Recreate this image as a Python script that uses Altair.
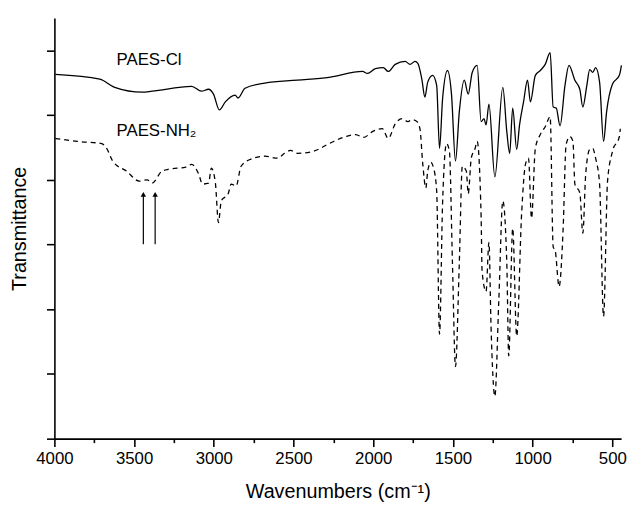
import altair as alt
import pandas as pd

# PAES-Cl (solid) : wavenumber (cm-1), transmittance (arb. units)
cl_wn = [3994, 3715, 3622, 3449, 3387, 3139, 3077, 3033, 3002, 2965, 2928, 2866, 2848, 2804,
         2680, 2476, 2277, 2067, 2036, 1986, 1937, 1906, 1862, 1800, 1769, 1738, 1720, 1695,
         1676, 1658, 1627, 1602, 1584, 1565, 1534, 1509, 1484, 1460, 1429, 1404, 1379, 1348,
         1323, 1305, 1292, 1274, 1237, 1187, 1162, 1144, 1125, 1100, 1082, 1057, 1032, 1014,
         983, 952, 921, 890, 871, 852, 828, 797, 772, 735, 704, 685, 660, 642, 623, 605, 580,
         555, 536, 499, 456, 443]
cl_t = [112.6, 111.1, 108.6, 107.1, 107.4, 108.9, 107.4, 108.0, 106.5, 101.6, 104.1, 106.2, 105.3, 108.3,
        109.9, 110.8, 111.7, 113.5, 112.9, 114.4, 114.7, 113.5, 115.7, 116.6, 115.7, 116.6, 116.0, 111.1,
        105.6, 110.2, 112.3, 109.2, 89.7, 105.0, 113.8, 106.5, 85.8, 101.0, 110.8, 106.5, 113.2, 115.4,
        98.0, 98.9, 97.0, 103.4, 80.9, 108.6, 94.9, 88.2, 102.2, 89.4, 97.0, 104.1, 110.8, 104.1,
        112.3, 113.8, 115.7, 119.3, 102.5, 102.2, 96.7, 109.2, 115.4, 110.8, 108.0, 102.5, 109.2, 114.1, 113.2, 114.7, 110.2,
        91.9, 101.0, 109.6, 112.3, 115.4]

# PAES-NH2 (dashed)
nh_wn = [3994, 3857, 3703, 3672, 3634, 3548, 3467, 3418, 3387, 3325, 3281, 3176, 3139, 3095,
         3071, 3033, 3015, 2990, 2971, 2953, 2910, 2891, 2860, 2829, 2767, 2680, 2600, 2556,
         2519, 2476, 2377, 2277, 2172, 2110, 2061, 2005, 1943, 1906, 1862, 1819, 1782, 1757,
         1726, 1707, 1689, 1670, 1658, 1639, 1621, 1602, 1584, 1565, 1540, 1522, 1503, 1484,
         1460, 1441, 1416, 1404, 1385, 1361, 1348, 1323, 1317, 1292, 1274, 1261, 1237, 1212,
         1187, 1162, 1150, 1125, 1100, 1069, 1045, 1026, 1007, 983, 952, 921, 890, 871, 859,
         834, 809, 790, 766, 747, 735, 704, 685, 667, 642, 623, 605, 580, 555, 530, 499, 456, 450]
nh_t = [92.8, 91.9, 91.2, 89.7, 85.8, 82.7, 79.6, 80.0, 79.0, 82.7, 83.3, 83.9, 84.8, 81.8,
        78.7, 79.0, 83.6, 79.0, 66.8, 73.5, 75.7, 78.7, 78.1, 84.2, 86.4, 87.3, 86.7, 88.2,
        89.1, 88.2, 88.8, 91.2, 93.4, 94.0, 93.1, 94.9, 95.8, 92.8, 97.3, 98.9, 98.0, 98.6,
        98.0, 95.8, 84.8, 77.5, 82.7, 85.4, 83.6, 76.6, 32.3, 72.6, 91.2, 88.8, 54.3, 22.3,
        54.3, 84.2, 82.7, 75.7, 86.7, 89.7, 91.9, 68.4, 51.6, 45.5, 60.7, 34.8, 13.1, 43.0,
        73.5, 54.3, 25.6, 65.0, 31.7, 69.6, 84.8, 86.7, 68.1, 89.7, 94.0, 96.4, 99.5, 59.2, 58.3,
        47.0, 64.4, 90.9, 93.4, 91.9, 78.7, 76.0, 63.5, 81.8, 89.4, 89.7, 86.7, 78.7, 37.8, 79.6, 88.8, 93.4, 95.8]

# annotations
arrow_wn = [3442, 3368]
arrow_base = [60.1, 60.1]
arrow_tip = [75.5, 75.5]

label_text = ["PAES-Cl", "PAES-NH\u2082"]
label_wn = [3610, 3610]
label_t = [117.0, 95.0]

x_ticks = list(range(4000, 499, -250))
y_ticks = list(range(0, 131, 10))

FONT = "Liberation Sans"

cl_df = pd.DataFrame({"wn": cl_wn, "t": cl_t})
nh_df = pd.DataFrame({"wn": nh_wn, "t": nh_t})
arr_df = pd.DataFrame({"wn": arrow_wn, "y0": arrow_base, "y1": arrow_tip})
lab_df = pd.DataFrame({"wn": label_wn, "t": label_t, "txt": label_text})

xscale = alt.Scale(domain=[445, 4000], reverse=True, nice=False, zero=False)
yscale = alt.Scale(domain=[0, 130], nice=False, zero=False)

xaxis = alt.Axis(
    title="Wavenumbers (cm\u207b\u00b9)",
    values=x_ticks,
    format="d",
    labelExpr="datum.value % 500 === 0 ? datum.label : ''",
    tickSize={"condition": {"test": "datum.value % 500 === 0", "value": 8}, "value": 4},
    grid=False, domainColor="black", tickColor="black", domainWidth=1.6, tickWidth=1.6,
    labelFont=FONT, labelFontSize=17, labelColor="black", labelPadding=4,
    titleFont=FONT, titleFontSize=20, titleFontWeight="normal", titleColor="black",
    titlePadding=16, labelFlush=False, labelOverlap=False,
)
yaxis = alt.Axis(
    title="Transmittance",
    values=y_ticks,
    labels=False,
    tickSize={"condition": {"test": "datum.value % 20 === 0", "value": 8}, "value": 4},
    grid=False, domainColor="black", tickColor="black", domainWidth=1.6, tickWidth=1.6,
    titleFont=FONT, titleFontSize=20, titleFontWeight="normal", titleColor="black",
    titlePadding=16,
)

base_x = alt.X("wn:Q", scale=xscale, axis=xaxis)
base_y = alt.Y("t:Q", scale=yscale, axis=yaxis)

cl_line = alt.Chart(cl_df).mark_line(color="black", strokeWidth=1.3, interpolate="monotone").encode(
    x=base_x, y=base_y)
nh_line = alt.Chart(nh_df).mark_line(color="black", strokeWidth=1.3, strokeDash=[5, 4],
                                     interpolate="monotone").encode(
    x=alt.X("wn:Q", scale=xscale), y=alt.Y("t:Q", scale=yscale))

shafts = alt.Chart(arr_df).mark_rule(color="black", strokeWidth=1.2).encode(
    x=alt.X("wn:Q", scale=xscale), y=alt.Y("y0:Q", scale=yscale), y2="y1:Q")
heads = alt.Chart(arr_df).mark_point(shape="triangle-up", filled=True, color="black",
                                     size=30, opacity=1).encode(
    x=alt.X("wn:Q", scale=xscale), y=alt.Y("y1:Q", scale=yscale))

labels = alt.Chart(lab_df).mark_text(font=FONT, fontSize=17, color="black", align="left",
                                     baseline="middle").encode(
    x=alt.X("wn:Q", scale=xscale), y=alt.Y("t:Q", scale=yscale), text="txt:N")

chart = alt.layer(cl_line, nh_line, shafts, heads, labels).properties(
    width=574, height=426,
    autosize=alt.AutoSizeParams(type="none"),
    padding={"left": 47, "top": 7, "right": 8, "bottom": 66},
    background="white",
).configure_view(stroke=None)

chart.save("out.html", embed_options={"renderer": "svg", "actions": False})
